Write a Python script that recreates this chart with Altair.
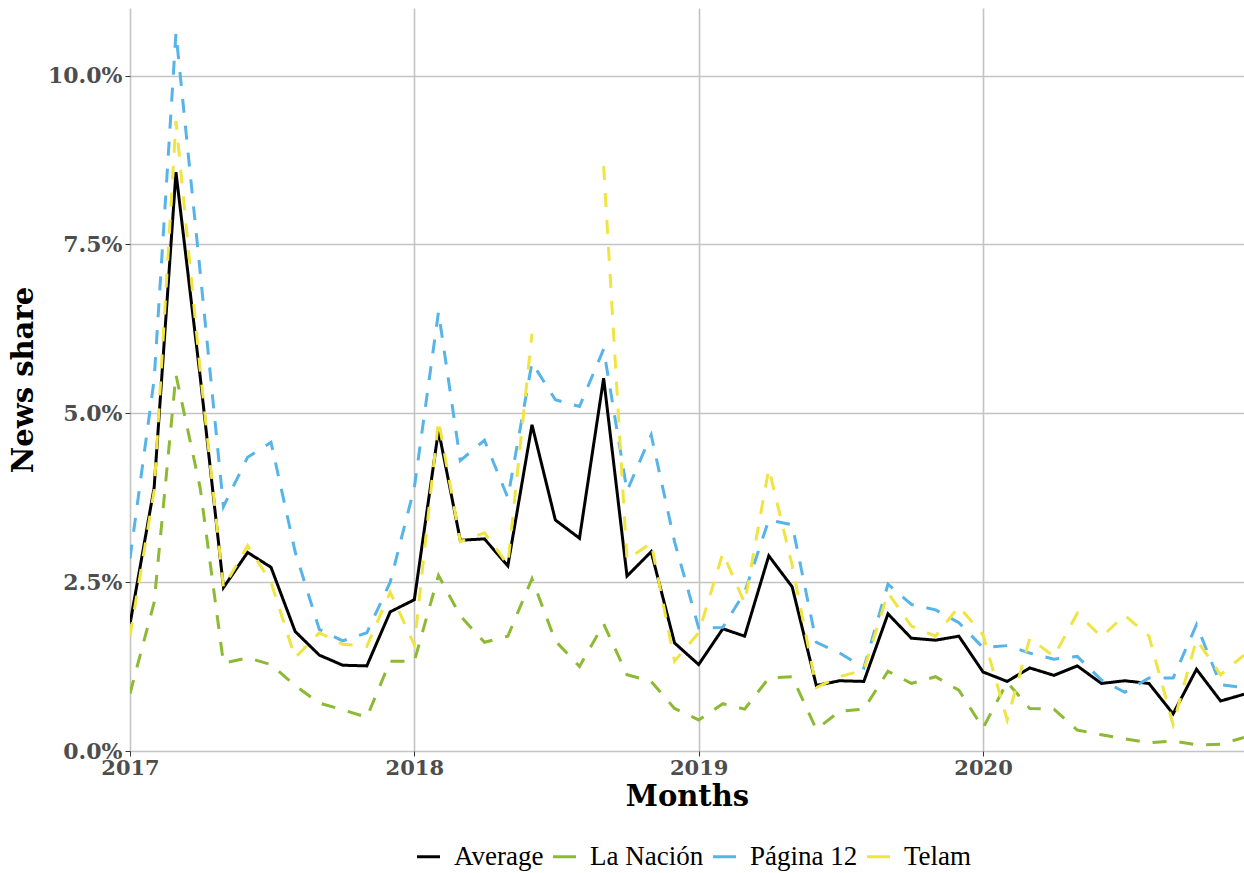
import altair as alt
import pandas as pd

months = pd.date_range("2017-01-01", "2020-12-01", freq="MS").strftime("%Y-%m-%d").tolist()

series_names = ["Average", "La Nación", "Página 12", "Telam"]
series_colors = ["#000000", "#8DB933", "#56B4E9", "#F0E442"]
series_style = ["solid", "dashed", "dashed", "dashed"]
style_names = ["solid", "dashed"]
style_dash = [[1, 0], [14, 13]]

average = [1.88, 3.90, 8.57, 5.55, 2.42, 2.94, 2.72, 1.77, 1.42, 1.27, 1.26, 2.06,
           2.24, 4.75, 3.12, 3.14, 2.74, 4.83, 3.42, 3.15, 5.52, 2.59, 2.95, 1.60,
           1.28, 1.81, 1.70, 2.89, 2.43, 0.97, 1.04, 1.03, 2.03, 1.67, 1.64, 1.70,
           1.17, 1.03, 1.23, 1.12, 1.26, 1.00, 1.04, 1.00, 0.55, 1.21, 0.74, 0.84]

la_nacion = [0.85, 2.20, 5.57, 3.90, 1.30, 1.38, 1.28, 0.97, 0.71, 0.61, 0.50, 1.33,
             1.33, 2.60, 2.00, 1.61, 1.70, 2.55, 1.63, 1.25, 1.88, 1.13, 1.03, 0.63,
             0.46, 0.70, 0.62, 1.08, 1.10, 0.32, 0.59, 0.62, 1.18, 1.00, 1.10, 0.90,
             0.34, 1.02, 0.63, 0.62, 0.31, 0.24, 0.18, 0.12, 0.15, 0.09, 0.10, 0.20]

pagina12 = [2.85, 5.50, 10.63, 7.10, 3.62, 4.35, 4.57, 2.95, 1.80, 1.63, 1.75, 2.50,
            3.90, 6.50, 4.30, 4.60, 3.75, 5.75, 5.20, 5.10, 5.95, 3.85, 4.68, 3.10,
            1.82, 1.83, 2.35, 3.42, 3.35, 1.61, 1.45, 1.23, 2.47, 2.17, 2.09, 1.90,
            1.53, 1.56, 1.45, 1.36, 1.40, 1.05, 0.87, 1.08, 1.08, 1.87, 0.98, 0.94]

telam = [1.70, 3.85, 9.33, 5.65, 2.42, 3.04, 2.50, 1.38, 1.75, 1.58, 1.55, 2.35,
         1.57, 4.90, 3.10, 3.23, 2.76, 6.18, None, None, 8.66, 2.83, 3.08, 1.33,
         1.75, 2.93, 2.19, 4.18, 2.75, 0.94, 1.10, 1.20, 2.34, 1.85, 1.70, 2.14,
         1.72, 0.46, 1.67, 1.40, 2.04, 1.69, 2.01, 1.70, 0.39, 1.65, 1.13, 1.42]

year_ticks = [2017, 2018, 2019, 2020]
y_ticks = [0, 0.025, 0.05, 0.075, 0.10]

rows = []
for name, style, vals in zip(series_names, series_style, [average, la_nacion, pagina12, telam]):
    for m, v in zip(months, vals):
        rows.append({"date": m, "series": name, "style": style,
                     "share": None if v is None else v / 100})
df = pd.DataFrame(rows)

x_enc = alt.X(
    "date:T",
    scale=alt.Scale(type="utc",
                    domain=[alt.DateTime(year=2017, month=1, date=1, utc=True),
                            alt.DateTime(year=2020, month=12, date=1, utc=True)]),
    axis=alt.Axis(values=[alt.DateTime(year=y, month=1, date=1, utc=True) for y in year_ticks],
                  format="%Y", formatType="utc", title="Months", labelFontSize=21),
)
y_enc = alt.Y(
    "share:Q",
    scale=alt.Scale(domain=[0, 0.11], nice=False, zero=True),
    axis=alt.Axis(values=y_ticks, format=".1%", title="News share", labelFontSize=22),
)
color_enc = alt.Color(
    "series:N",
    scale=alt.Scale(domain=series_names, range=series_colors),
    legend=alt.Legend(title=None, orient="none", direction="horizontal",
                      legendX=285, legendY=835, symbolType="stroke",
                      symbolSize=529, symbolStrokeWidth=3,
                      columnPadding=3, labelOffset=12, labelFont="Liberation Serif",
                      labelFontSize=27, labelColor="#000000"),
)
dash_enc = alt.StrokeDash(
    "style:N",
    scale=alt.Scale(domain=style_names, range=style_dash),
    legend=None,
)

base = alt.Chart(df).mark_line(strokeWidth=3, clip=True).encode(
    x=x_enc, y=y_enc, color=color_enc, strokeDash=dash_enc
)

layers = [base.transform_filter(alt.datum.series == s) for s in series_names]

chart = alt.layer(*layers).properties(
    width=1114, height=743,
    autosize=alt.AutoSizeParams(type="none"),
    padding={"left": 130, "top": 8, "right": 0, "bottom": 122},
).configure_view(stroke=None).configure_axis(
    grid=True, gridColor="#c4c4c4", gridWidth=1.6,
    domain=False, tickColor="#333333", tickSize=5, tickWidth=1,
    labelFont="DejaVu Serif", labelFontWeight="bold",
    labelColor="#4d4d4d", titleFont="DejaVu Serif", titleFontWeight="bold",
    titleFontSize=29, titleColor="#000000",
).configure_axisX(
    labelPadding=1, titlePadding=4, labelOverlap=False, labelFlush=False,
).configure_axisY(
    labelPadding=3, titlePadding=9,
)

chart.save("out.html", embed_options={"renderer": "svg", "actions": False})
